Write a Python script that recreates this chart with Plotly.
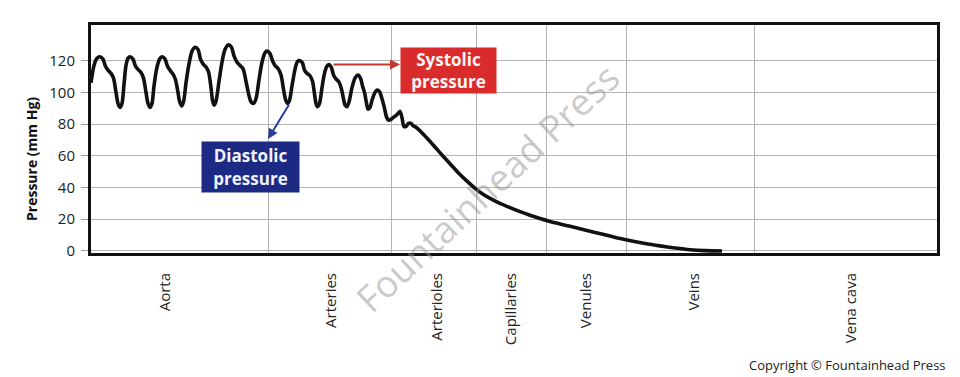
import plotly.graph_objects as go

# ---- data (distance along vascular tree in arbitrary units, pressure in mm Hg) ----
distance = [0, 3, 6, 9, 12, 14.5, 17, 20, 22.5, 25, 27, 29, 31, 33, 35, 37, 39, 42, 44.5, 47, 50, 52.5, 55, 57, 59, 61,
            63, 66, 69, 71.5, 74, 76.5, 79, 82, 84.5, 87, 88.5, 90.5, 92.5, 95, 98, 101, 104, 107, 109.5, 112, 115,
            117.5, 120, 121.5, 123, 125, 128, 131, 134, 137.5, 140.5, 143, 146, 149, 152, 155, 158, 160, 162.5, 165,
            168, 171, 174, 176, 179, 181.5, 184, 187, 190, 192.5, 194.5, 196.5, 198.5, 201, 204, 206.5, 209, 211.5,
            213.5, 216, 219, 221.5, 223.5, 225, 226.5, 228.5, 231, 233.5, 236, 238.5, 240.5, 242.5, 245, 248, 250.5,
            252.5, 254, 256, 258, 261, 264, 267, 269.5, 271.5, 273.5, 275, 277, 279, 281, 284, 286, 288.5, 291, 293.5,
            295.5, 297.5, 300, 303, 306, 309, 311, 313, 315, 317.5, 320, 322, 325, 334, 342, 351, 359, 367, 376, 384,
            392, 401, 409, 419, 429, 439, 449, 459, 469, 479, 489, 502, 519, 536, 554, 569, 584, 599, 614, 631]
pressure = [106, 117, 121.5, 122.5, 121, 116.5, 114, 112, 109, 100, 93, 90.5, 93, 105, 117, 121.5, 122.5, 121, 116.5,
            114.5, 112.5, 109, 100, 93, 90.5, 93, 104, 116, 121.5, 122.5, 121, 116.5, 114, 111.5, 108, 100, 94.5, 91.5,
            94, 106, 118, 126, 128.5, 127, 121, 118, 116, 113, 103, 95, 92, 94.5, 107, 119, 127, 130, 128.5, 123, 119,
            117, 115, 107, 98, 94, 93, 96, 108, 119, 125, 126, 124.5, 120, 117, 115, 111, 102, 95.5, 93, 95, 104,
            114.5, 119.5, 120, 118.5, 114, 112, 110.5, 107, 99, 93, 91, 93, 103, 112, 116.5, 117.5, 115.5, 111, 108.5,
            106.5, 102, 96, 92, 91, 94, 103, 109, 111, 109, 104, 100, 95, 89.5, 90.5, 95, 100, 101.5, 100.5, 96, 90,
            84.5, 82.5, 83, 84.5, 86, 88, 84, 78.5, 78.5, 80.5, 80.5, 79, 78, 72.5, 67, 60.5, 55, 49.5, 44, 39.5,
            35.8, 32.5, 30, 27.3, 24.8, 22.5, 20.4, 18.6, 17, 15.5, 14, 12, 9.4, 6.9, 4.7, 3.2, 1.9, 0.8, 0.2, 0]

vessels = ["Aorta", "Arteries", "Arterioles", "Capillaries", "Venules", "Veins", "Vena cava"]
vessel_label_pos = [74, 240, 346, 420, 495, 603, 760]
vessel_boundaries = [177, 300, 385, 455, 535, 663]
y_ticks = [0, 20, 40, 60, 80, 100, 120]

FONT = "Open Sans"

fig = go.Figure()
fig.add_trace(go.Scatter(
    x=distance, y=pressure, mode="lines",
    line=dict(color="#111111", width=3.6, shape="spline", smoothing=0.8),
    hoverinfo="skip", showlegend=False,
))

fig.update_layout(
    width=960, height=377,
    margin=dict(l=91, r=23, t=25, b=124),
    paper_bgcolor="white", plot_bgcolor="white",
    font=dict(family=FONT, color="#222222"),
    showlegend=False,
    xaxis=dict(
        range=[0, 846], tickmode="array", tickvals=vessel_label_pos, ticktext=vessels,
        tickangle=-90, tickfont=dict(size=15, color="#222222", family=FONT),
        showgrid=False, zeroline=False, ticks="", ticklabelstandoff=11,
        showline=True, linecolor="#111111", linewidth=3, mirror=True,
        minor=dict(tickmode="array", tickvals=vessel_boundaries, showgrid=True,
                   gridcolor="#b4b4b4", gridwidth=1, ticks=""),
    ),
    yaxis=dict(
        range=[-1.3, 142.5], tickmode="array", tickvals=y_ticks,
        tickfont=dict(size=15, color="#222222", family=FONT),
        showgrid=True, gridcolor="#b4b4b4", gridwidth=1, zeroline=False,
        ticks="outside", ticklen=7, tickcolor="#999999", tickwidth=1, ticklabelstandoff=3,
        showline=True, linecolor="#111111", linewidth=3, mirror=True,
    ),
)

annotations = [
    # y-axis title
    dict(text="<b>Pressure (mm Hg)</b>", xref="paper", yref="paper",
         x=(31 - 91) / 846, y=(253 - 159) / 228, textangle=-90, showarrow=False,
         font=dict(size=14, color="#111111", family=FONT), xanchor="center", yanchor="middle"),
    # watermark
    dict(text="Fountainhead Press", xref="x", yref="y", x=396, y=40, textangle=-43,
         showarrow=False, font=dict(size=37, color="rgba(150,150,150,0.5)", family=FONT)),
    # systolic arrow + label
    dict(text="", x=309, y=117.6, ax=241, ay=117.6, xref="x", yref="y", axref="x", ayref="y",
         showarrow=True, arrowhead=2, arrowsize=1, arrowwidth=2, arrowcolor="#c23b32"),
    dict(text="<b>Systolic<br>pressure</b>", x=357, y=114.1, xref="x", yref="y", showarrow=False,
         bgcolor="#d92b2b", width=93, height=43, borderpad=1,
         font=dict(size=17, color="#fff4f2", family=FONT)),
    # diastolic arrow + label
    dict(text="", x=177, y=70.6, ax=199, ay=93.3, xref="x", yref="y", axref="x", ayref="y",
         showarrow=True, arrowhead=2, arrowsize=1, arrowwidth=2, arrowcolor="#2b3d9c"),
    dict(text="<b>Diastolic<br>pressure</b>", x=159, y=53, xref="x", yref="y", showarrow=False,
         bgcolor="#1c2a84", width=95, height=48, borderpad=1,
         font=dict(size=17, color="#f2f2ff", family=FONT)),
    # copyright
    dict(text="Copyright © Fountainhead Press", xref="paper", yref="paper",
         x=(948 - 91) / 846, y=(253 - 365) / 228, xanchor="right", yanchor="middle",
         showarrow=False, font=dict(size=13, color="#222222", family=FONT)),
]
fig.update_layout(annotations=annotations)

fig.write_html("out.html", config={"displayModeBar": False},
               post_script="document.body.style.margin='0';document.body.style.overflow='hidden';")
